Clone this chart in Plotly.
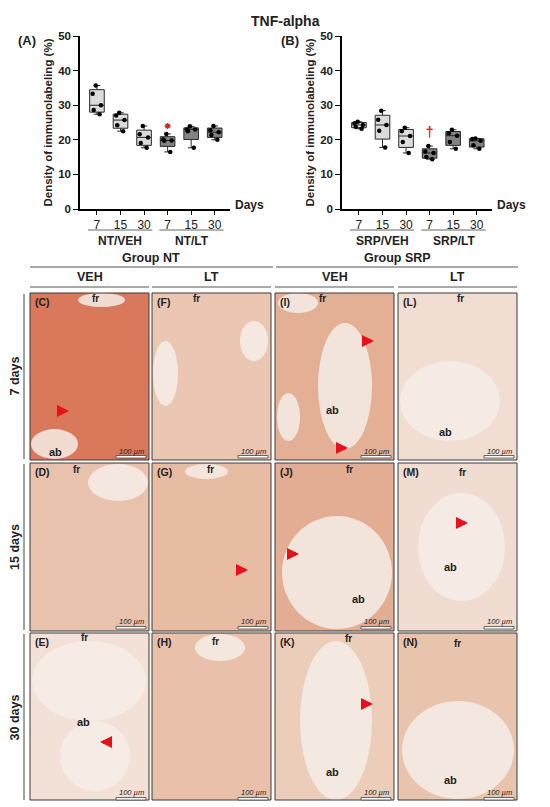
import plotly.graph_objects as go

# The page keeps its default body margin and the screenshot is squeezed a
# little in height, so reference pixel positions are mapped onto the figure.
OFF = 8
W, H = 550 - 2 * OFF, 798
Y_SCALE, Y_SHIFT = 0.985, 5.1

############################ DATA #########################

days = ["7", "15", "30"]
nt_groups = ["NT/VEH", "NT/LT"]
srp_groups = ["SRP/VEH", "SRP/LT"]

# density of immunolabeling (%), five animals per box
nt_veh_7 = [35.7, 33.3, 30.0, 28.6, 27.4]
nt_veh_15 = [27.8, 27.0, 25.7, 24.2, 22.5]
nt_veh_30 = [24.0, 21.6, 20.7, 19.1, 17.7]
nt_lt_7 = [21.7, 20.1, 19.8, 19.7, 16.5]
nt_lt_15 = [23.9, 23.0, 23.0, 22.5, 17.7]
nt_lt_30 = [24.0, 22.8, 22.2, 21.4, 20.0]

srp_veh_7 = [25.2, 24.8, 24.3, 23.8, 23.2]
srp_veh_15 = [28.4, 25.8, 24.3, 22.6, 17.8]
srp_veh_30 = [23.5, 22.5, 21.1, 19.4, 16.2]
srp_lt_7 = [18.2, 16.6, 16.2, 15.0, 14.4]
srp_lt_15 = [22.9, 21.9, 21.2, 19.4, 17.4]
srp_lt_30 = [20.4, 20.2, 19.7, 18.4, 17.4]

# significance marks (box index, y)
nt_star = (4, 24.0)
srp_dagger = (4, 21.9)

# micrograph panels
panel_letters = [["C", "F", "I", "L"],
                 ["D", "G", "J", "M"],
                 ["E", "H", "K", "N"]]
panel_tints = [["#d9785a", "#ebc6b3", "#e4b095", "#f1ddd2"],
               ["#e9c2ae", "#e8bca3", "#e2ad92", "#f1dcd1"],
               ["#f3e0d6", "#e9c1aa", "#ebcdba", "#e8c4ad"]]
row_labels = ["7 days", "15 days", "30 days"]
col_labels = ["VEH", "LT", "VEH", "LT"]

############################ LAYOUT HELPERS #########################

def px(x):
    return (x - OFF) / W

def py(y):
    f = (y - Y_SHIFT) / Y_SCALE - OFF
    return min(1.0, max(0.0, 1 - f / H))

col_x = [(30, 149), (152, 271), (275, 394), (398, 517)]
row_y = [(292, 459), (462, 630), (632, 801)]

# pale, unstained areas inside the micrographs (x0, y0, x1, y1)
lumens = [
    (78, 292, 125, 306), (31, 428, 78, 458),
    (153, 340, 178, 405), (240, 320, 268, 360),
    (278, 292, 318, 312), (318, 322, 372, 448), (277, 392, 300, 440),
    (400, 360, 500, 440),
    (88, 463, 148, 500),
    (185, 463, 228, 478),
    (282, 515, 392, 628),
    (418, 492, 505, 600),
    (32, 640, 146, 720), (60, 720, 130, 790),
    (195, 633, 245, 660),
    (300, 640, 372, 800),
    (402, 700, 514, 798),
]

# tissue labels: (x, y, text)
tissue_labels = [
    (95, 297, "fr"), (55, 451, "ab"),
    (196, 297, "fr"),
    (322, 297, "fr"), (332, 409, "ab"),
    (460, 297, "fr"), (445, 431, "ab"),
    (76, 468, "fr"),
    (210, 468, "fr"),
    (349, 468, "fr"), (358, 598, "ab"),
    (462, 471, "fr"), (450, 566, "ab"),
    (84, 637, "fr"), (83, 721, "ab"),
    (215, 641, "fr"),
    (348, 638, "fr"), (332, 771, "ab"),
    (457, 643, "fr"), (450, 779, "ab"),
]

# red arrows: tip x, tip y, direction (+1 right, -1 left)
arrows = [(69, 410, 1), (374, 340, 1), (348, 447, 1), (248, 569, 1),
          (299, 553, 1), (468, 522, 1), (100, 741, -1), (373, 703, 1)]

############################ FIGURE #########################

fig = go.Figure()

light = "#dcdcdc"
dark = "#838383"
font = "Liberation Sans"

def add_boxes(series, fills, xa, ya):
    for i, (vals, fill) in enumerate(zip(series, fills)):
        fig.add_trace(go.Box(
            x=[i + 1] * len(vals), y=vals, xaxis=xa, yaxis=ya,
            fillcolor=fill, line=dict(color="#2a2a2a", width=1),
            boxpoints="all", jitter=0.7, pointpos=0,
            marker=dict(color="black", size=4.5),
            width=0.62, whiskerwidth=0.45, quartilemethod="exclusive",
            showlegend=False, hoverinfo="y"))

add_boxes([nt_veh_7, nt_veh_15, nt_veh_30, nt_lt_7, nt_lt_15, nt_lt_30],
          [light] * 3 + [dark] * 3, "x", "y")
add_boxes([srp_veh_7, srp_veh_15, srp_veh_30, srp_lt_7, srp_lt_15, srp_lt_30],
          [light] * 3 + [dark] * 3, "x2", "y2")

fig.add_trace(go.Scatter(x=[nt_star[0]], y=[nt_star[1]], mode="markers",
                         marker=dict(symbol="asterisk", size=5,
                                     line=dict(color="#d62020", width=1.3)),
                         xaxis="x", yaxis="y", showlegend=False))
fig.add_trace(go.Scatter(x=[srp_dagger[0]], y=[srp_dagger[1]], mode="text",
                         text=["†"], textfont=dict(color="#d62020", size=14,
                                                   family=font, weight="bold"),
                         xaxis="x2", yaxis="y2", showlegend=False))

xa_common = dict(range=[0.28, 6.65], tickvals=[1, 2, 3, 4, 5, 6],
                 ticktext=days * 2, showline=True, linecolor="black",
                 linewidth=1.5, ticks="outside", ticklen=4, tickwidth=1.2,
                 tickcolor="black", showgrid=False, zeroline=False,
                 tickfont=dict(size=12, family=font, color="#222"))
ya_common = dict(range=[0, 50], tickvals=[0, 10, 20, 30, 40, 50],
                 showline=True, linecolor="black", linewidth=1.5,
                 ticks="outside", ticklen=5, tickwidth=1.2, tickcolor="black",
                 showgrid=False, zeroline=False,
                 tickfont=dict(size=11.5, family=font, color="#222", weight="bold"),
                 title=dict(text="Density of immunolabeling (%)", standoff=3,
                            font=dict(size=11.5, family=font, color="#222",
                                      weight="bold")))

fig.update_layout(
    width=W, height=H, margin=dict(l=0, r=0, t=0, b=0),
    paper_bgcolor="white", plot_bgcolor="white",
    font=dict(family=font, color="#222"),
    xaxis=dict(domain=[px(80), px(230)], anchor="y", **xa_common),
    yaxis=dict(domain=[py(208), py(35)], anchor="x", **ya_common),
    xaxis2=dict(domain=[px(342), px(492)], anchor="y2", **xa_common),
    yaxis2=dict(domain=[py(208), py(35)], anchor="x2", **ya_common),
)

shapes = []
ann = []

def text(x, y, s, size=11, bold=True, xanchor="center", color="#222",
         italic=False, angle=0, yanchor="middle", yshift=0):
    ann.append(dict(x=px(x), y=py(y), xref="paper", yref="paper", text=s,
                    showarrow=False, xanchor=xanchor, yanchor=yanchor,
                    textangle=angle, yshift=yshift,
                    font=dict(size=size, family=font, color=color,
                              weight="bold" if bold else "normal",
                              style="italic" if italic else "normal")))

def line(x0, y0, x1, y1, color="#555", width=1):
    shapes.append(dict(type="line", xref="paper", yref="paper",
                       x0=px(x0), y0=py(y0), x1=px(x1), y1=py(y1),
                       line=dict(color=color, width=width)))

# title and panel letters of the charts
text(285, 5, "TNF-alpha", size=14, yanchor="top", yshift=3)
text(27, 39, "(A)", size=13)
text(290, 39, "(B)", size=13)

# group captions under the box plots
for xa, groups, days_x in (("x", nt_groups, 233), ("x2", srp_groups, 495)):
    for g, (a, b) in zip(groups, ((0.62, 3.35), (3.65, 6.38))):
        shapes.append(dict(type="line", xref=xa, yref="paper",
                           x0=a, x1=b, y0=py(229), y1=py(229),
                           line=dict(color="#666", width=1)))
        ann.append(dict(x=(a + b) / 2, y=py(240), xref=xa, yref="paper",
                        text=g, showarrow=False, yanchor="middle",
                        font=dict(size=12, family=font, color="#222",
                                  weight="bold")))
    text(days_x, 204, "Days", size=12, xanchor="left")

# group header over micrographs
text(151, 257, "Group NT", size=12.5)
text(397, 257, "Group SRP", size=12.5)
line(30, 266, 273, 266)
line(276, 266, 518, 266)
for (x0, x1), lab in zip(col_x, col_labels):
    text((x0 + x1) / 2, 276, lab, size=12.5)
    line(x0, 286, x1, 286)

# micrograph panels
for r, (y0, y1) in enumerate(row_y):
    text(15, (y0 + y1) / 2, row_labels[r], size=12.5, angle=-90)
    line(24, y0 + 1, 24, y1 - 1, color="#444", width=1)
    for c, (x0, x1) in enumerate(col_x):
        shapes.append(dict(type="rect", xref="paper", yref="paper",
                           x0=px(x0), x1=px(x1), y0=py(y1), y1=py(y0),
                           fillcolor=panel_tints[r][c], layer="below",
                           line=dict(width=0)))

for x0, y0, x1, y1 in lumens:
    shapes.append(dict(type="circle", xref="paper", yref="paper",
                       x0=px(x0), x1=px(x1), y0=py(y1), y1=py(y0),
                       fillcolor="#f6ede8", opacity=0.85, layer="below",
                       line=dict(width=0)))

for r, (y0, y1) in enumerate(row_y):
    for c, (x0, x1) in enumerate(col_x):
        shapes.append(dict(type="rect", xref="paper", yref="paper",
                           x0=px(x0), x1=px(x1), y0=py(y1), y1=py(y0),
                           line=dict(color="#3a3a3a", width=1)))
        text(x0 + 3, y0 + 9, "(" + panel_letters[r][c] + ")", size=10.5,
             xanchor="left")
        # scale bar
        text(x1 - 3, y1 - 9, "100 µm", size=7.5, bold=False, italic=True,
             xanchor="right")
        shapes.append(dict(type="rect", xref="paper", yref="paper",
                           x0=px(x1 - 33), x1=px(x1 - 3),
                           y0=py(y1 - 2), y1=py(y1 - 4.5),
                           fillcolor="white", line=dict(color="#444", width=0.8)))

for x, y, s in tissue_labels:
    text(x, y, s, size=11 if s == "ab" else 10)

for x, y, d in arrows:
    ann.append(dict(x=px(x), y=py(y), xref="paper", yref="paper",
                    ax=-11 * d, ay=0, showarrow=True, arrowhead=2,
                    arrowsize=0.6, arrowwidth=4, arrowcolor="#e8101a",
                    text=""))

fig.update_layout(shapes=shapes, annotations=ann)

fig.write_html("out.html")
